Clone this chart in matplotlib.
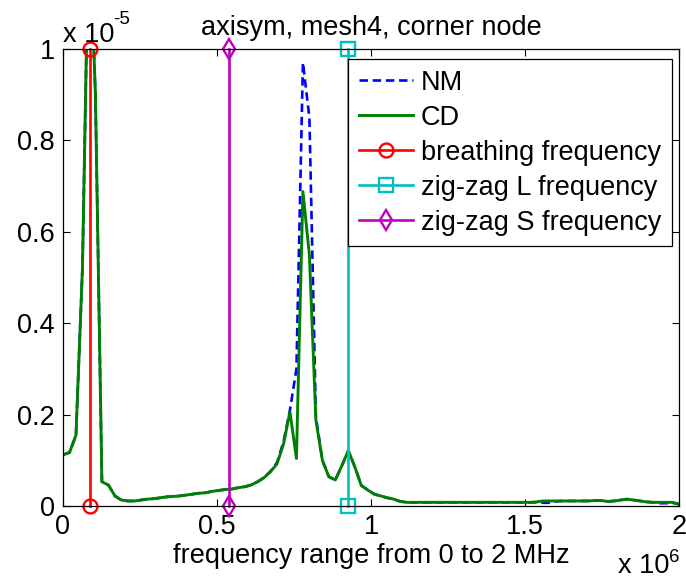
import numpy as np
import matplotlib
matplotlib.use("Agg")
import matplotlib.pyplot as plt
from matplotlib.ticker import FuncFormatter

plt.rcParams['font.family'] = ['Liberation Sans', 'DejaVu Sans']

# ---- data (amplitudes in units of 1e-5) ----
freq = np.linspace(0, 2e6, 96)

cd_vals = [0.112, 0.117, 0.155, 0.52, 1.3, 0.9, 0.053, 0.046, 0.022, 0.013,
           0.011, 0.011, 0.013, 0.015, 0.016, 0.018, 0.020, 0.021, 0.022, 0.024,
           0.026, 0.028, 0.029, 0.032, 0.034, 0.036, 0.037, 0.040, 0.042, 0.046,
           0.053, 0.062, 0.075, 0.092, 0.135, 0.206, 0.104, 0.688, 0.549, 0.188,
           0.100, 0.064, 0.057, 0.088, 0.121, 0.086, 0.045, 0.035, 0.026, 0.022,
           0.018, 0.015, 0.010, 0.008, 0.008, 0.008, 0.008, 0.008, 0.008, 0.008,
           0.008, 0.008, 0.008, 0.008, 0.008, 0.008, 0.008, 0.008, 0.008, 0.008,
           0.008, 0.008, 0.008, 0.009, 0.011, 0.011, 0.011, 0.011, 0.011, 0.011,
           0.011, 0.011, 0.012, 0.012, 0.010, 0.011, 0.013, 0.015, 0.013, 0.011,
           0.009, 0.008, 0.008, 0.008, 0.008, 0.004]

nm_vals = [0.112, 0.117, 0.155, 0.52, 1.3, 0.9, 0.053, 0.046, 0.022, 0.013,
           0.011, 0.011, 0.013, 0.015, 0.016, 0.018, 0.020, 0.021, 0.022, 0.024,
           0.026, 0.028, 0.029, 0.032, 0.034, 0.036, 0.037, 0.040, 0.042, 0.046,
           0.053, 0.062, 0.076, 0.095, 0.140, 0.210, 0.300, 0.970, 0.850, 0.195,
           0.100, 0.064, 0.057, 0.088, 0.121, 0.086, 0.045, 0.035, 0.026, 0.022,
           0.018, 0.015, 0.010, 0.008, 0.008, 0.008, 0.008, 0.008, 0.008, 0.008,
           0.008, 0.008, 0.008, 0.008, 0.008, 0.008, 0.008, 0.008, 0.008, 0.008,
           0.008, 0.008, 0.008, 0.008, 0.007, 0.007, 0.010, 0.011, 0.011, 0.011,
           0.011, 0.011, 0.012, 0.012, 0.010, 0.011, 0.013, 0.015, 0.013, 0.011,
           0.009, 0.008, 0.006, 0.006, 0.007, 0.004]

scale = 1e-5
cd = np.array(cd_vals) * scale
nm = np.array(nm_vals) * scale

breathing_f = 0.0877e6
zigzag_L_f = 0.924e6
zigzag_S_f = 0.540e6
marker_span = [0.0, 1.0e-5]

xticks = [0, 0.5e6, 1.0e6, 1.5e6, 2.0e6]
yticks = [0, 0.2e-5, 0.4e-5, 0.6e-5, 0.8e-5, 1.0e-5]

title = 'axisym, mesh4, corner node'
xlabel = 'frequency range from 0 to 2 MHz'

# ---- figure ----
W, H = 686, 580
FS = 19.5
SUP = 13.5
fig = plt.figure(figsize=(W/100, H/100), dpi=100)
ax = fig.add_axes([63/W, 1-506/H, (679-63)/W, (506-49)/H])

ax.plot(freq, nm, '--', color=(0, 0, 1), lw=1.9, label='NM', dashes=(3.2, 1.8))
ax.plot(freq, cd, '-', color=(0, 0.5, 0), lw=2.1, label='CD')

mk = dict(ms=10, mew=1.7, mfc='none', clip_on=False, lw=1.9)
ax.plot([breathing_f]*2, marker_span, '-o', color=(1, 0, 0),
        label='breathing frequency', **mk)
ax.plot([zigzag_L_f]*2, marker_span, '-s', color=(0, 0.75, 0.75),
        label='zig-zag L frequency', **mk)
ax.plot([zigzag_S_f]*2, marker_span, '-d', color=(0.75, 0, 0.75),
        label='zig-zag S frequency', **mk)

ax.set_xlim(0, 2e6)
ax.set_ylim(0, 1e-5)
ax.set_xticks(xticks)
ax.set_yticks(yticks)
ax.xaxis.set_major_formatter(FuncFormatter(lambda v, p: f'{v/1e6:g}'))
ax.yaxis.set_major_formatter(FuncFormatter(lambda v, p: f'{v/1e-5:g}'))
ax.tick_params(direction='in', length=5, width=0.8, top=True, right=True,
               labelsize=FS, pad=6)
for s in ax.spines.values():
    s.set_linewidth(0.9)

ax.set_title(title, fontsize=FS, pad=10)
ax.set_xlabel(xlabel, fontsize=FS, labelpad=2)

# MATLAB-style exponent labels
fig.text(63/W, 1-42/H, 'x 10', fontsize=FS, ha='left', va='baseline')
fig.text(113/W, 1-24/H, '-5', fontsize=SUP, ha='left', va='baseline')
fig.text(618/W, 1-573/H, 'x 10', fontsize=FS, ha='left', va='baseline')
fig.text(669/W, 1-562/H, '6', fontsize=SUP, ha='left', va='baseline')

leg = ax.legend(loc='upper right', bbox_to_anchor=(0.989, 0.978),
                borderaxespad=0, fontsize=FS, fancybox=False, framealpha=1,
                edgecolor='black', handlelength=2.0, handletextpad=0.3,
                labelspacing=0.33, borderpad=0.4)
leg.get_frame().set_linewidth(0.9)

fig.savefig('out.png', dpi=100)
